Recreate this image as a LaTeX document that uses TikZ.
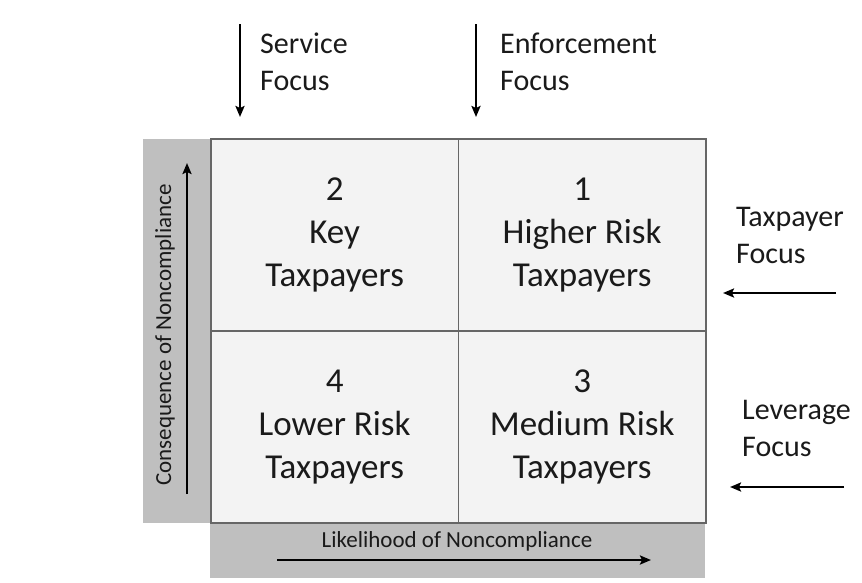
\documentclass[tikz,border=0pt]{standalone}
\usepackage{fontspec}
\setmainfont{Carlito}
\usetikzlibrary{arrows.meta}
\definecolor{cellfill}{HTML}{F3F3F3}
\definecolor{cellline}{HTML}{666666}
\definecolor{band}{HTML}{BFBFBF}
\definecolor{ink}{HTML}{1A1A1A}
\begin{document}
\begin{tikzpicture}[x=1pt,y=-1pt,
  cell/.style={draw=cellline, line width=1.8pt, fill=cellfill, minimum width=247.5pt, minimum height=192pt, anchor=north west, inner sep=0pt, align=center, text=ink, font=\fontsize{35}{43}\selectfont},
  bandbox/.style={fill=band, draw=none, anchor=north west, inner sep=0pt},
  biglabel/.style={anchor=north west, align=left, inner sep=0pt, text=ink, font=\fontsize{30}{37}\selectfont},
  axislabel/.style={inner sep=0pt, text=ink, font=\fontsize{23}{27}\selectfont},
  arr/.style={draw=black, line width=2.3pt, -{Stealth[length=11pt,width=9pt,inset=2pt]}}
  ]
\useasboundingbox (0,0) rectangle (862,582);
\fill[white] (0,0) rectangle (862,582);
% grey bands
\node[bandbox, minimum width=68pt, minimum height=384pt] (lband) at (142.5,138.5) {};
\node[bandbox, minimum width=495pt, minimum height=57pt] (bband) at (210,521) {};
% cells
\node[cell] (c2) at (210,138) {2\\Key\\Taxpayers};
\node[cell] (c1) at (457.5,138) {1\\Higher Risk\\Taxpayers};
\node[cell] (c4) at (210,330) {4\\Lower Risk\\Taxpayers};
\node[cell] (c3) at (457.5,330) {3\\Medium Risk\\Taxpayers};
% top labels
\node[biglabel] (serv) at (260,33) {Service\\Focus};
\node[biglabel] (enf) at (500,33) {Enforcement\\Focus};
\coordinate (s1) at (240,24); \coordinate (s2) at (240,117);
\coordinate (e1) at (476,24); \coordinate (e2) at (476,117);
\draw[arr] (s1) -- (s2);
\draw[arr] (e1) -- (e2);
% right labels
\node[biglabel] (tax) at (736,207) {Taxpayer\\Focus};
\node[biglabel] (lev) at (742,400) {Leverage\\Focus};
\coordinate (t1) at (836,293); \coordinate (t2) at (723,293);
\coordinate (l1) at (844,487); \coordinate (l2) at (730,487);
\draw[arr] (t1) -- (t2);
\draw[arr] (l1) -- (l2);
% axes
\node[axislabel, rotate=90] (ylab) at (165,335) {Consequence of Noncompliance};
\coordinate (y1) at (187,494); \coordinate (y2) at (187,163);
\draw[arr] (y1) -- (y2);
\node[axislabel] (xlab) at (457,541) {Likelihood of Noncompliance};
\coordinate (x1) at (277,560); \coordinate (x2) at (651,560);
\draw[arr] (x1) -- (x2);
\end{tikzpicture}
\end{document}
